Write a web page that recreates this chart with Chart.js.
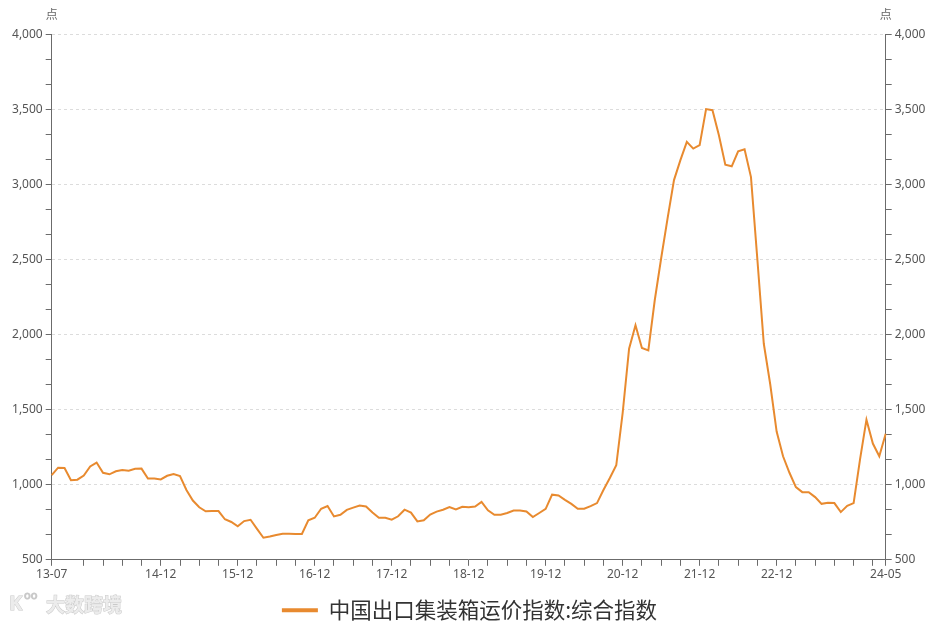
<!DOCTYPE html>
<html>
<head>
<meta charset="utf-8">
<script src="https://cdn.jsdelivr.net/npm/chart.js@4/dist/chart.umd.min.js"></script>
<style>
  html, body { margin: 0; padding: 0; background: #ffffff; }
  #wrap { width: 939px; height: 622px; position: relative; }
</style>
</head>
<body>
<div id="wrap"><canvas id="c" width="939" height="622"></canvas></div>
<script>
// ---------------- data ----------------
const seriesName = '中国出口集装箱运价指数:综合指数';
const unitLabel = '点';
const startYear = 2013;
const startMonth = 7;
// monthly values, 2013-07 .. 2024-05
const values2013 = [1065, 1114, 1112, 1030, 1034, 1062];
const values2014 = [1122, 1148, 1080, 1070, 1090, 1098, 1094, 1107, 1108, 1042, 1042, 1036];
const values2015 = [1060, 1072, 1058, 965, 895, 850, 823, 825, 825, 770, 752, 723];
const values2016 = [758, 767, 706, 647, 655, 665, 674, 673, 672, 672, 763, 780];
const values2017 = [840, 858, 789, 800, 833, 848, 862, 855, 815, 780, 780, 767];
const values2018 = [790, 834, 815, 756, 763, 802, 821, 834, 851, 835, 853, 851];
const values2019 = [855, 886, 830, 800, 800, 812, 828, 829, 822, 785, 812, 840];
const values2020 = [934, 929, 900, 873, 840, 840, 858, 878, 965, 1045, 1130, 1480];
const values2021 = [1907, 2063, 1912, 1896, 2230, 2510, 2776, 3031, 3164, 3286, 3241, 3264];
const values2022 = [3504, 3497, 3330, 3134, 3123, 3223, 3236, 3051, 2500, 1940, 1670, 1355];
const values2023 = [1190, 1080, 985, 951, 951, 918, 873, 880, 878, 818, 860, 878];
const values2024 = [1170, 1434, 1275, 1190, 1340];
const values = [].concat(values2013, values2014, values2015, values2016, values2017, values2018,
  values2019, values2020, values2021, values2022, values2023, values2024);

const tickLabels = ['13-07', '14-12', '15-12', '16-12', '17-12', '18-12', '19-12', '20-12', '21-12', '22-12', '24-05'];
const xTickFirstMark = '13-12';   // first small tick mark after the start
const xTickStepMonths = 3;
const yMin = 500, yMax = 4000, yMajorStep = 500, yMinorPerMajor = 3;

// month categories
const months = values.map((_, i) => {
  const m = startMonth - 1 + i;
  const y = startYear + Math.floor(m / 12);
  return String(y % 100).padStart(2, '0') + '-' + String(m % 12 + 1).padStart(2, '0');
});

// ---------------- styles ----------------
const lineColor = '#E88A2F';
const axisColor = '#6b6b6b';
const labelColor = '#555555';
const gridColor = '#dcdcdc';
const tickFont = { family: '"Noto Sans", "Open Sans", sans-serif', size: 12 };

function xTickIndices() {
  const idx = new Set([0, months.length - 1]);
  const first = months.indexOf(xTickFirstMark);
  for (let i = first; i < months.length; i += xTickStepMonths) idx.add(i);
  return Array.from(idx).sort((a, b) => a - b);
}
function yTickValues() {
  const out = [];
  const n = (yMax - yMin) / yMajorStep * yMinorPerMajor;
  for (let k = 0; k <= n; k++) {
    out.push(k % yMinorPerMajor === 0 ? yMin + (k / yMinorPerMajor) * yMajorStep
                                      : yMin + k * yMajorStep / yMinorPerMajor);
  }
  return out;
}
const isMajor = v => Math.abs((v - yMin) / yMajorStep - Math.round((v - yMin) / yMajorStep)) < 1e-6;

function yAxis(position, showGrid, width) {
  return {
    type: 'linear',
    position: position,
    min: yMin, max: yMax,
    afterBuildTicks: s => { s.ticks = yTickValues().map(v => ({ value: v })); },
    afterFit: s => { s.width = width; },
    border: { display: true, color: axisColor, width: 1, dash: [3, 3] },
    grid: {
      display: true,
      drawOnChartArea: showGrid,
      drawTicks: true,
      tickLength: 6,
      tickWidth: 1,
      tickColor: axisColor,
      color: ctx => (ctx.tick && isMajor(ctx.tick.value)) ? gridColor : 'rgba(0,0,0,0)',
      lineWidth: 1
    },
    ticks: {
      autoSkip: false,
      padding: 3,
      color: labelColor,
      font: tickFont,
      callback: v => isMajor(v) ? Math.round(v).toLocaleString('en-US') : ''
    }
  };
}

const extras = {
  id: 'extras',
  afterDraw(chart) {
    const ctx = chart.ctx;
    ctx.save();
    ctx.fillStyle = '#666666';
    ctx.font = '12px "Noto Sans CJK SC", sans-serif';
    ctx.textAlign = 'center';
    ctx.textBaseline = 'middle';
    ctx.fillText(unitLabel, chart.scales.y.right, 14);
    ctx.fillText(unitLabel, chart.scales.y2.left, 14);
    // watermark
    ctx.font = 'bold 19px "Noto Sans CJK SC", sans-serif';
    ctx.textAlign = 'left';
    ctx.fillStyle = '#ececec';
    ctx.strokeStyle = '#c9c9c9';
    ctx.lineWidth = 1;
    ctx.strokeText('大数跨境', 46, 605);
    ctx.fillText('大数跨境', 46, 605);
    ctx.font = 'bold 20px "Noto Sans", sans-serif';
    ctx.strokeText('K', 9, 604);
    ctx.fillText('K', 9, 604);
    ctx.font = '11px "Noto Sans", sans-serif';
    ctx.strokeText('oo', 24, 596);
    ctx.restore();
  }
};

new Chart(document.getElementById('c'), {
  type: 'line',
  data: {
    labels: months,
    datasets: [{
      label: seriesName,
      data: values,
      borderColor: lineColor,
      backgroundColor: lineColor,
      borderWidth: 2,
      pointRadius: 0,
      pointHoverRadius: 0,
      tension: 0,
      fill: false,
      yAxisID: 'y'
    }]
  },
  options: {
    responsive: false,
    animation: false,
    devicePixelRatio: 1,
    layout: { padding: { top: 34.7, left: 0, right: 0, bottom: -9 } },
    plugins: {
      tooltip: { enabled: false },
      legend: {
        display: true,
        position: 'bottom',
        labels: {
          boxWidth: 36,
          boxHeight: 4,
          padding: 10,
          color: '#333333',
          font: { family: '"Noto Sans CJK SC", sans-serif', size: 21.5 },
          generateLabels: chart => Chart.defaults.plugins.legend.labels.generateLabels(chart)
            .map(l => Object.assign(l, { lineWidth: 0, fillStyle: lineColor, strokeStyle: lineColor }))
        }
      }
    },
    scales: {
      x: {
        type: 'category',
        offset: false,
        afterBuildTicks: s => { s.ticks = xTickIndices().map(v => ({ value: v })); },
        afterFit: s => { s.height = 29.7; },
        border: { display: true, color: axisColor, width: 1 },
        grid: { display: true, drawOnChartArea: false, drawTicks: true, tickLength: 6, tickColor: axisColor },
        ticks: {
          autoSkip: false,
          maxRotation: 0,
          minRotation: 0,
          padding: 2,
          color: labelColor,
          font: tickFont,
          callback: v => tickLabels.includes(months[v]) ? months[v] : ''
        }
      },
      y: yAxis('left', true, 51.7),
      y2: yAxis('right', false, 53.3)
    }
  },
  plugins: [extras]
});
</script>
</body>
</html>
